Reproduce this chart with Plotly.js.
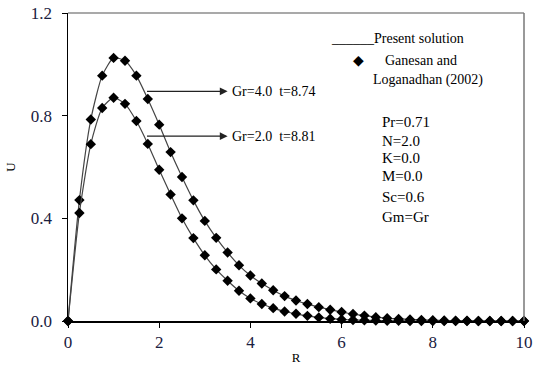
<!DOCTYPE html>
<html>
<head>
<meta charset="utf-8">
<script src="https://cdn.plot.ly/plotly-3.0.1.min.js"></script>
<style>html,body{margin:0;padding:0;background:#fff;}#chart{width:534px;height:368px;}</style>
</head>
<body>
<div id="chart"></div>
<script>
const R = [0,0.25,0.5,0.75,1,1.25,1.5,1.75,2,2.25,2.5,2.75,3,3.25,3.5,3.75,4,4.25,4.5,4.75,5,5.25,5.5,5.75,6,6.25,6.5,6.75,7,7.25,7.5,7.75,8,8.25,8.5,8.75,9,9.25,9.5,9.75,10];
const U_Gr4 = [0,0.471,0.785,0.956,1.025,1.014,0.956,0.865,0.765,0.658,0.561,0.470,0.390,0.324,0.267,0.217,0.177,0.146,0.120,0.097,0.080,0.066,0.054,0.044,0.035,0.027,0.021,0.015,0.011,0.008,0.006,0.004,0.003,0.002,0.001,0.001,0,0,0,0,0];
const U_Gr2 = [0,0.421,0.689,0.830,0.870,0.846,0.779,0.690,0.589,0.493,0.400,0.323,0.256,0.201,0.157,0.118,0.088,0.066,0.050,0.037,0.028,0.020,0.014,0.009,0.006,0.004,0.003,0.002,0.001,0.001,0,0,0,0,0,0,0,0,0,0,0];
const xTicks = [0,2,4,6,8,10];
const yTicks = [0,0.4,0.8,1.2];
const yTickText = ['0.0','0.4','0.8','1.2'];
const curveLabels = ['Gr=4.0  t=8.74','Gr=2.0  t=8.81'];
const params = ['Pr=0.71','N=2.0','K=0.0','M=0.0','Sc=0.6','Gm=Gr'];

const serif = 'Liberation Serif';
function trace(y){
  return {x:R, y:y, type:'scatter', mode:'lines+markers',
    line:{color:'#444', width:1.2, shape:'spline', smoothing:0.6},
    marker:{symbol:'diamond', size:8, color:'#000'}, showlegend:false, cliponaxis:false};
}
const annotations = [];
const arrowDefs = [{y:0.895, label:curveLabels[0]},{y:0.72, label:curveLabels[1]}];
arrowDefs.forEach(a=>{
  annotations.push({x:3.5, y:a.y, ax:1.70, ay:a.y, axref:'x', ayref:'y', xref:'x', yref:'y',
    text:'', showarrow:true, arrowhead:2, arrowsize:1.2, arrowwidth:1.3, arrowcolor:'#222'});
  annotations.push({x:3.55, y:a.y, xref:'x', yref:'y', text:a.label.replace('  ','&nbsp; '), showarrow:false,
    xanchor:'left', yanchor:'middle', font:{family:serif, size:14, color:'#000'}});
});
const W=534,H=368, ml=68, mr=10, mt=13, mb=47;
const pw=W-ml-mr, ph=H-mt-mb;
function px2paperX(px){return (px-ml)/pw;}
function px2paperY(py){return 1-(py-mt)/ph;}
const legendItems = [
  {text:'______Present solution', px:329, py:39},
  {text:'\u25C6', px:351, py:60},
  {text:'Ganesan and', px:383, py:60},
  {text:'Loganadhan (2002)', px:371, py:80}
];
legendItems.forEach(l=>{
  annotations.push({x:px2paperX(l.px), y:px2paperY(l.py), xref:'paper', yref:'paper', text:l.text,
    showarrow:false, xanchor:'left', yanchor:'middle', font:{family:serif, size:14, color:'#000'}});
});
const paramY = [122,141,158,176,197,217];
params.forEach((p,i)=>{
  annotations.push({x:px2paperX(380), y:px2paperY(paramY[i]), xref:'paper', yref:'paper', text:p,
    showarrow:false, xanchor:'left', yanchor:'middle', font:{family:serif, size:15, color:'#000'}});
});

const layout = {
  width:W, height:H, margin:{l:ml, r:mr, t:mt, b:mb},
  paper_bgcolor:'#fff', plot_bgcolor:'#fff', showlegend:false,
  font:{family:serif},
  xaxis:{range:[0,10], tickvals:xTicks, ticktext:xTicks.map(String), ticks:'outside', ticklen:5, tickcolor:'#000',
    showgrid:false, zeroline:false, showline:true, linecolor:'#000', linewidth:1.5,
    tickfont:{family:serif, size:17, color:'#1a2040'},
    title:{text:'R', font:{family:serif, size:13, color:'#000'}, standoff:2}},
  yaxis:{range:[0,1.2], tickvals:yTicks, ticktext:yTickText, ticks:'outside', ticklen:5, tickcolor:'#000',
    showgrid:false, zeroline:false, showline:true, linecolor:'#000', linewidth:1.5,
    tickfont:{family:serif, size:17, color:'#1a2040'}, ticklabelstandoff:6,
    title:{text:'U', font:{family:serif, size:13, color:'#000'}, standoff:12}},
  shapes:[
    {type:'line', xref:'paper', yref:'paper', x0:0, x1:1, y0:1, y1:1, line:{color:'#555', width:1.2}},
    {type:'line', xref:'paper', yref:'paper', x0:1, x1:1, y0:0, y1:1, line:{color:'#777', width:1.5}}
  ],
  annotations:annotations
};
Plotly.newPlot('chart',[trace(U_Gr4), trace(U_Gr2)], layout, {staticPlot:true});
</script>
</body>
</html>
